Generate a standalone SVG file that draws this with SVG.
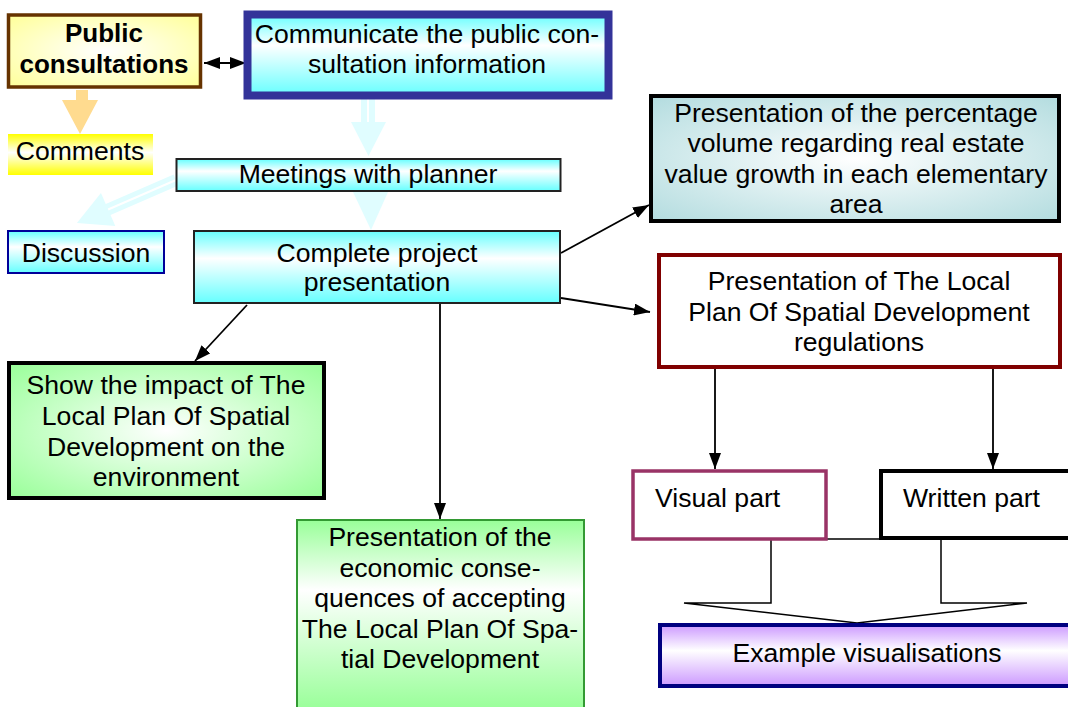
<svg xmlns="http://www.w3.org/2000/svg" width="1068" height="707" viewBox="0 0 1068 707">
<style>
.t{font-family:"Liberation Sans",Arial,sans-serif;font-size:26.6px;fill:#000;text-anchor:middle}
.s{text-anchor:start}
.b{font-weight:bold;font-size:26px}
.ln{stroke:#000;stroke-width:1.8;fill:none;marker-end:url(#ah)}
.blk{fill:#e0fdff;stroke:none}
</style>
<defs>
<marker id="ah" markerUnits="userSpaceOnUse" markerWidth="16" markerHeight="12" refX="16" refY="6" orient="auto-start-reverse">
<path d="M0,0 L16,6 L0,12 z" fill="#000"/>
</marker>
<linearGradient id="gCyan" x1="0" y1="0" x2="0" y2="1">
<stop offset="0" stop-color="#66ffff"/><stop offset="0.38" stop-color="#ffffff"/><stop offset="1" stop-color="#66ffff"/>
</linearGradient>
<linearGradient id="gYel" x1="0" y1="0" x2="0" y2="1">
<stop offset="0" stop-color="#ffff00"/><stop offset="0.45" stop-color="#ffffff"/><stop offset="1" stop-color="#ffff00"/>
</linearGradient>
<linearGradient id="gPur" x1="0" y1="0" x2="0" y2="1">
<stop offset="0" stop-color="#cc99ff"/><stop offset="0.42" stop-color="#ffffff"/><stop offset="1" stop-color="#cc99ff"/>
</linearGradient>
<linearGradient id="gGreenL" x1="0" y1="0" x2="0" y2="1">
<stop offset="0" stop-color="#99ff99"/><stop offset="0.35" stop-color="#ffffff"/><stop offset="0.95" stop-color="#99ff99"/>
</linearGradient>
<radialGradient id="gPub" cx="0.5" cy="0.5" r="0.7">
<stop offset="0" stop-color="#ffffff"/><stop offset="1" stop-color="#ffff99"/>
</radialGradient>
<radialGradient id="gTeal" cx="0.5" cy="0.5" r="0.7">
<stop offset="0" stop-color="#ffffff"/><stop offset="1" stop-color="#b3dcdf"/>
</radialGradient>
<radialGradient id="gGreen" cx="0.5" cy="0.5" r="0.7">
<stop offset="0" stop-color="#ffffff"/><stop offset="1" stop-color="#99ff99"/>
</radialGradient>
</defs>

<g id="connectors">
<line x1="204" y1="63" x2="246" y2="63" class="ln" style="marker-start:url(#ah)"/>
<polygon points="76,90 88,90 88,100 98,100 80,134 62,100 76,100" fill="#ffdb8f"/>
<g>
<polygon class="blk" points="361,99 375,99 375,122 386,122 368.5,156 351,122 361,122"/>
<line x1="368" y1="99" x2="368" y2="122" stroke="#fff" stroke-width="2"/>
</g>
<polygon class="blk" points="353,192 388,192 371,230"/>
<g transform="translate(176,180) rotate(156.5)">
<polygon class="blk" points="0,-6 74,-6 74,-18 108,0 74,18 74,6 0,6"/>
<line x1="0" y1="0" x2="74" y2="0" stroke="#fff" stroke-width="2"/>
</g>
<line x1="247" y1="305" x2="195" y2="361" class="ln"/>
<line x1="440" y1="304" x2="440" y2="519" class="ln"/>
<line x1="561" y1="253" x2="649" y2="205" class="ln"/>
<line x1="561" y1="298" x2="650" y2="312" class="ln"/>
<line x1="715" y1="369" x2="715" y2="469" class="ln"/>
<line x1="993" y1="369" x2="993" y2="469" class="ln"/>
<polygon points="771,539 771,603 684,603 857,623 1027,603 941,603 941,539" fill="#fff" stroke="#000" stroke-width="1.5"/>
</g>

<g id="public">
<rect x="8.5" y="15" width="192" height="72" fill="url(#gPub)" stroke="#663300" stroke-width="3.5"/>
<text class="t b" x="104" y="42">Public</text>
<text class="t b" x="104" y="73">consultations</text>
</g>
<g id="communicate">
<rect x="247.5" y="14.5" width="361" height="81" fill="url(#gCyan)" stroke="#333399" stroke-width="8"/>
<text class="t" x="427" y="43">Communicate the public con-</text>
<text class="t" x="427" y="73">sultation information</text>
</g>
<g id="comments">
<rect x="8" y="134" width="145" height="41" fill="url(#gYel)"/>
<text class="t" x="80" y="159.5">Comments</text>
</g>
<g id="meetings">
<rect x="176.5" y="159" width="384" height="32" fill="url(#gCyan)" stroke="#222" stroke-width="2"/>
<text class="t" x="368" y="183">Meetings with planner</text>
</g>
<g id="discussion">
<rect x="8" y="231" width="156" height="42" fill="url(#gCyan)" stroke="#000099" stroke-width="2"/>
<text class="t" x="86" y="262">Discussion</text>
</g>
<g id="complete">
<rect x="194" y="231" width="366" height="72" fill="url(#gCyan)" stroke="#222" stroke-width="2"/>
<text class="t" x="377" y="262">Complete project</text>
<text class="t" x="377" y="291">presentation</text>
</g>
<g id="percentage">
<rect x="651" y="96" width="408" height="125" fill="url(#gTeal)" stroke="#000" stroke-width="4"/>
<text class="t" x="856" y="122">Presentation of the percentage</text>
<text class="t" x="856" y="152">volume regarding real estate</text>
<text class="t" x="856" y="183">value growth in each elementary</text>
<text class="t" x="856" y="213">area</text>
</g>
<g id="regulations">
<rect x="659" y="255" width="401" height="112" fill="#fff" stroke="#800000" stroke-width="4"/>
<text class="t" x="859" y="290">Presentation of The Local</text>
<text class="t" x="859" y="321">Plan Of Spatial Development</text>
<text class="t" x="859" y="351">regulations</text>
</g>
<g id="impact">
<rect x="9" y="363" width="315" height="135" fill="url(#gGreen)" stroke="#000" stroke-width="4"/>
<text class="t" x="166" y="394">Show the impact of The</text>
<text class="t" x="166" y="425">Local Plan Of Spatial</text>
<text class="t" x="166" y="456">Development on the</text>
<text class="t" x="166" y="486">environment</text>
</g>
<g id="economic">
<rect x="297" y="520" width="287" height="200" fill="url(#gGreenL)" stroke="#339933" stroke-width="2"/>
<text class="t" x="440" y="546">Presentation of the</text>
<text class="t" x="440" y="577">economic conse-</text>
<text class="t" x="440" y="607">quences of accepting</text>
<text class="t" x="440" y="638">The Local Plan Of Spa-</text>
<text class="t" x="440" y="668">tial Development</text>
</g>
<g id="visual">
<rect x="633" y="471" width="193" height="68" fill="#fff" stroke="#993366" stroke-width="3.5"/>
<text class="t s" x="655" y="507">Visual part</text>
</g>
<g id="written">
<rect x="881" y="471" width="200" height="67" fill="#fff" stroke="#000" stroke-width="4"/>
<text class="t s" x="903" y="507">Written part</text>
</g>
<g id="example">
<rect x="660" y="625" width="420" height="61" fill="url(#gPur)" stroke="#000080" stroke-width="4"/>
<text class="t" x="867" y="662">Example visualisations</text>
</g>
</svg>
